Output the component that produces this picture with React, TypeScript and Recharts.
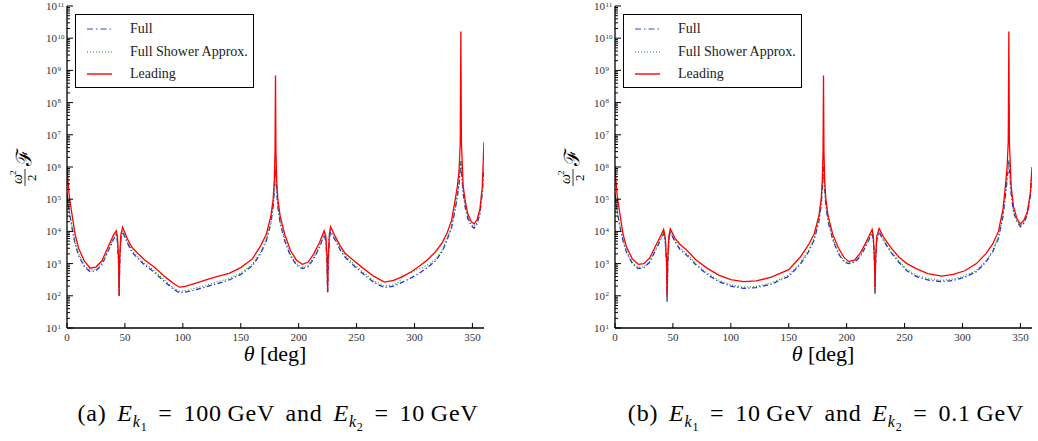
import React from 'react';
import { LineChart, Line, XAxis, YAxis } from 'recharts';

// panel (a): E_k1 = 100 GeV, E_k2 = 10 GeV
const thetaA = [
  0, 1, 2, 4, 7, 10, 15, 20, 25, 30,
  35, 40, 42.5, 43.5, 44.5, 45, 45.5, 46.5, 48, 52,
  56, 60, 67, 75, 85, 92, 97, 102, 110, 120,
  130, 140, 150, 160, 167, 172, 176, 178, 179, 179.6,
  180, 180.4, 181, 182, 184, 188, 193, 198, 203, 208,
  213, 218, 222, 223.5, 224.5, 225, 225.5, 226.5, 227.5, 232,
  236, 240, 247, 255, 265, 274, 282, 287, 290, 297,
  304, 311, 318, 324, 328, 332, 335, 337, 338.5, 339.5,
  340, 340.5, 342, 344, 346, 349, 351.5, 354, 356.5, 358.5,
  360,
];
const fullA = [
  1.5e5, 8e4, 4e4, 1.5e4, 4e3, 1.8e3, 8e2, 5.6e2, 6e2, 9e2,
  2.2e3, 5.5e3, 7.8e3, 5e3, 1e3, 1e2, 1e3, 6e3, 9.8e3, 4.5e3,
  2.3e3, 1.6e3, 9e2, 5.5e2, 2.6e2, 1.6e2, 1.25e2, 1.3e2, 1.5e2, 1.9e2,
  2.4e2, 3.1e2, 4.6e2, 8.5e2, 2e3, 5e3, 1.8e4, 6e4, 2e5, 5e5,
  9e5, 5e5, 2e5, 6e4, 1.8e4, 5e3, 1.7e3, 9e2, 7e2, 8e2,
  1.4e3, 3.2e3, 7.8e3, 5e3, 1e3, 1.3e2, 1e3, 6e3, 9.8e3, 5e3,
  2.6e3, 1.6e3, 9e2, 5e2, 2.6e2, 1.8e2, 2e2, 2.4e2, 2.7e2, 3.6e2,
  5e2, 7.5e2, 1.2e3, 2.4e3, 5.3e3, 1.3e4, 4.7e4, 1.2e5, 3e5, 8e5,
  1.5e6, 8e5, 1.5e5, 5e4, 2.5e4, 1.5e4, 1.25e4, 1.7e4, 3.5e4, 1.5e5,
  1e6,
];
const showerA = [
  1.6e5, 9e4, 4.5e4, 1.7e4, 4.5e3, 2e3, 8.8e2, 6.2e2, 6.6e2, 1e3,
  2.4e3, 6e3, 8.5e3, 5.5e3, 1.1e3, 1e2, 1.1e3, 6.5e3, 1.05e4, 5e3,
  2.6e3, 1.8e3, 1e3, 6.2e2, 2.9e2, 1.75e2, 1.38e2, 1.45e2, 1.7e2, 2.1e2,
  2.7e2, 3.5e2, 5.1e2, 9.5e2, 2.2e3, 5.5e3, 2e4, 6.5e4, 2.2e5, 6e5,
  1e6, 6e5, 2.2e5, 6.5e4, 2e4, 5.5e3, 1.9e3, 1e3, 7.8e2, 8.8e2,
  1.55e3, 3.5e3, 8.5e3, 5.5e3, 1.1e3, 1.3e2, 1.1e3, 6.5e3, 1.05e4, 5.5e3,
  2.9e3, 1.8e3, 1e3, 5.6e2, 2.9e2, 2e2, 2.2e2, 2.7e2, 4.3e2, 5.3e2,
  6.8e2, 9e2, 1.35e3, 2.7e3, 5.9e3, 1.45e4, 5.2e4, 1.3e5, 3.3e5, 9e5,
  1.6e6, 9e5, 1.7e5, 5.6e4, 2.8e4, 1.7e4, 1.4e4, 1.9e4, 3.9e4, 1.7e5,
  1.1e6,
];
const leadingA = [
  1e6, 3e5, 1.2e5, 4e4, 8e3, 3e3, 1.2e3, 7.2e2, 7.8e2, 1.2e3,
  3e3, 7.5e3, 1.05e4, 7e3, 1.5e3, 1e2, 1.5e3, 8e3, 1.35e4, 6e3,
  3.2e3, 2.3e3, 1.3e3, 8e2, 3.8e2, 2.4e2, 1.85e2, 1.95e2, 2.4e2, 3.1e2,
  4e2, 5e2, 7.5e2, 1.4e3, 3.5e3, 8e3, 3e4, 1e5, 4e5, 3e6,
  7e8, 3e6, 4e5, 1e5, 3e4, 8e3, 2.5e3, 1.3e3, 9.5e2, 1.1e3,
  2e3, 4.5e3, 1.05e4, 7e3, 1.5e3, 1.3e2, 1.5e3, 8e3, 1.4e4, 6.5e3,
  3.5e3, 2.1e3, 1.3e3, 7.5e2, 4e2, 2.65e2, 3e2, 3.6e2, 4e2, 5.5e2,
  8.3e2, 1.3e3, 2.3e3, 4.5e3, 8.7e3, 2.2e4, 9e4, 2.5e5, 8e5, 6e6,
  1.6e10, 6e6, 2.5e5, 8e4, 3.5e4, 2e4, 1.7e4, 2.3e4, 5e4, 2.4e5,
  6e6,
];

// panel (b): E_k1 = 10 GeV, E_k2 = 0.1 GeV
const thetaB = [
  0, 1, 2, 4, 7, 10, 15, 20, 25, 30,
  35, 40, 42, 43.5, 44.5, 45, 45.5, 46.5, 47.7, 52,
  56, 62, 70, 80, 90, 100, 111, 122, 135, 150,
  160, 167, 172, 176, 178, 179, 179.6, 180, 180.4, 181,
  182, 184, 188, 193, 198, 202, 207, 212, 217, 222,
  223, 224, 224.5, 225, 226, 228, 232, 238, 245, 252,
  260, 270, 282, 292, 302, 312, 320, 326, 331, 335,
  337, 338.5, 339.5, 340, 340.5, 342, 344, 347, 350, 353,
  356, 358.5, 360,
];
const fullB = [
  1.5e5, 8e4, 4e4, 1.5e4, 5e3, 2.2e3, 1e3, 7e2, 7.5e2, 1.1e3,
  2.6e3, 6e3, 8.7e3, 4.5e3, 9e2, 6.5e1, 9e2, 5.5e3, 9.5e3, 4.6e3,
  2.8e3, 1.8e3, 9e2, 4.5e2, 2.7e2, 2e2, 1.7e2, 1.8e2, 2.3e2, 4e2,
  9.5e2, 2.3e3, 5.5e3, 2e4, 6.5e4, 2.2e5, 6e5, 1e6, 6e5, 2.2e5,
  6.5e4, 2e4, 5.5e3, 2e3, 1.1e3, 1e3, 1.1e3, 1.7e3, 3.7e3, 9e3,
  5.5e3, 1.1e3, 1.15e2, 1.1e3, 5.5e3, 9.5e3, 5e3, 2.3e3, 1.1e3, 6e2,
  4e2, 3.1e2, 2.75e2, 3e2, 3.8e2, 5.6e2, 1.1e3, 2.3e3, 6e3, 3e4,
  1.2e5, 4e5, 9e5, 1.5e6, 9e5, 1.5e5, 4e4, 2e4, 1.4e4, 1.8e4,
  3.3e4, 1.2e5, 6e5,
];
const showerB = [
  1.6e5, 9e4, 4.5e4, 1.7e4, 5.5e3, 2.4e3, 1.1e3, 7.6e2, 8.2e2, 1.2e3,
  2.8e3, 6.5e3, 9.3e3, 5e3, 1e3, 7e1, 1e3, 6e3, 1e4, 5e3,
  3.1e3, 2e3, 1e3, 5e2, 3e2, 2.2e2, 1.85e2, 1.95e2, 2.5e2, 4.4e2,
  1.05e3, 2.5e3, 6e3, 2.2e4, 7e4, 2.4e5, 6.5e5, 1.1e6, 6.5e5, 2.4e5,
  7e4, 2.2e4, 6e3, 2.2e3, 1.2e3, 1.08e3, 1.2e3, 1.85e3, 4e3, 9.7e3,
  6e3, 1.2e3, 1.2e2, 1.2e3, 6e3, 1e4, 5.4e3, 2.5e3, 1.2e3, 6.6e2,
  4.4e2, 3.4e2, 3e2, 3.3e2, 4.2e2, 6.1e2, 1.2e3, 2.5e3, 6.5e3, 3.3e4,
  1.3e5, 4.4e5, 1e6, 1.6e6, 1e6, 1.6e5, 4.4e4, 2.2e4, 1.5e4, 2e4,
  3.6e4, 1.3e5, 6.5e5,
];
const leadingB = [
  1e6, 3e5, 1.2e5, 4e4, 8e3, 3.2e3, 1.4e3, 9.5e2, 1e3, 1.5e3,
  3.5e3, 8e3, 1.15e4, 6e3, 1.2e3, 9e1, 1.2e3, 7e3, 1.2e4, 6e3,
  4e3, 2.6e3, 1.3e3, 7e2, 4.3e2, 3.2e2, 2.75e2, 2.9e2, 3.8e2, 6.5e2,
  1.6e3, 3.8e3, 8.5e3, 3e4, 1e5, 4e5, 3e6, 7e8, 3e6, 4e5,
  1e5, 3e4, 8e3, 3e3, 1.5e3, 1.15e3, 1.3e3, 2.2e3, 4.8e3, 1.15e4,
  7e3, 1.5e3, 1.5e2, 1.5e3, 7e3, 1.23e4, 6.5e3, 3.2e3, 1.6e3, 1e3,
  7e2, 4.9e2, 4.1e2, 4.6e2, 6e2, 1e3, 2e3, 4e3, 1e4, 5e4,
  2.5e5, 1e6, 6e6, 1.6e10, 6e6, 2.5e5, 6e4, 2.5e4, 1.7e4, 2.2e4,
  4e4, 1.5e5, 1e6,
];

const xTicks = [0, 50, 100, 150, 200, 250, 300, 350];
const yDecades = [1, 2, 3, 4, 5, 6, 7, 8, 9, 10, 11];
const yTicks: number[] = [];
yDecades.forEach((d) => {
  if (d === 11) { yTicks.push(1e11); return; }
  for (let m = 1; m <= 9; m++) yTicks.push(m * Math.pow(10, d));
});

const SERIF = '"Liberation Serif", "Times New Roman", Times, Tinos, "Noto Serif", "DejaVu Serif", serif';
const BLUE = '#1f2fe8';
const GREEN = '#2e9a2e';
const RED = '#ff0000';

const isMajor = (v: number) => Math.abs(Math.log10(v) - Math.round(Math.log10(v))) < 1e-6;

const BottomTick = (props: any) => {
  const { x, y, payload } = props;
  return (
    <g>
      <line x1={x} x2={x} y1={y} y2={y - 5} stroke="#000" strokeWidth={1} />
      <text x={x} y={y + 13} textAnchor="middle" fontSize={11} fontFamily={SERIF} fill="#333">{payload.value}</text>
    </g>
  );
};

const TopTick = (props: any) => {
  const { x, y } = props;
  return <line x1={x} x2={x} y1={y} y2={y + 5} stroke="#000" strokeWidth={1} />;
};

const LeftTick = (props: any) => {
  const { x, y, payload } = props;
  const v = payload.value;
  const major = isMajor(v);
  return (
    <g>
      <line x1={x} x2={x + (major ? 6 : 3)} y1={y} y2={y} stroke="#000" strokeWidth={1} />
      {major && (
        <text x={x - 10} y={y + 4} textAnchor="end" fontSize={11} fontFamily={SERIF} fill="#333">
          10
        </text>
      )}
      {major && (
        <text x={x - 9.5} y={y + 0.5} textAnchor="start" fontSize={7} fontFamily={SERIF} fill="#333">
          {Math.round(Math.log10(v))}
        </text>
      )}
    </g>
  );
};

const RightTick = (props: any) => {
  const { x, y, payload } = props;
  const major = isMajor(payload.value);
  return <line x1={x} x2={x - (major ? 6 : 3)} y1={y} y2={y} stroke="#000" strokeWidth={1} />;
};

const legendItems = [
  { name: 'Full', color: BLUE, dash: '6 3 1.5 3', opacity: 0.6 },
  { name: 'Full Shower Approx.', color: GREEN, dash: '1 2', opacity: 0.8 },
  { name: 'Leading', color: RED, dash: '', opacity: 1 },
];

const Panel = ({ left, theta, full, shower, leading, caption }: any) => {
  const data = theta.map((t: number, i: number) => ({ theta: t, full: full[i], shower: shower[i], leading: leading[i] }));
  return (
    <div style={{ position: 'absolute', left, top: 0, width: 490, height: 441 }}>
      <div style={{ position: 'absolute', left: 0, top: 0 }}>
        <LineChart width={490} height={360} data={data} margin={{ top: 6, right: 6, left: 0, bottom: 0 }}>
          <XAxis xAxisId="b" dataKey="theta" type="number" domain={[0, 360]} ticks={xTicks} interval={0}
            allowDataOverflow height={32} tickSize={0} tickMargin={0} tickLine={false}
            axisLine={{ stroke: '#000', strokeWidth: 1.3 }} tick={<BottomTick />} />
          <XAxis xAxisId="t" orientation="top" dataKey="theta" type="number" domain={[0, 360]} ticks={xTicks} interval={0}
            allowDataOverflow height={0} tickSize={0} tickMargin={0} tickLine={false}
            axisLine={{ stroke: '#888', strokeWidth: 1.6 }} tick={<TopTick />} />
          <YAxis yAxisId="l" scale="log" type="number" domain={[10, 1e11]} ticks={yTicks} interval={0}
            allowDataOverflow width={67} tickSize={0} tickMargin={0} tickLine={false}
            axisLine={{ stroke: '#000', strokeWidth: 1.3 }} tick={<LeftTick />} />
          <YAxis yAxisId="r" orientation="right" scale="log" type="number" domain={[10, 1e11]} ticks={yTicks} interval={0}
            allowDataOverflow width={0} tickSize={0} tickMargin={0} tickLine={false}
            axisLine={{ stroke: '#888', strokeWidth: 1.6 }} tick={<RightTick />} />
          <Line xAxisId="b" yAxisId="l" type="linear" dataKey="full" stroke={BLUE} strokeWidth={1.3}
            strokeDasharray="5 2.5 1.2 2.5" dot={false} isAnimationActive={false} />
          <Line xAxisId="b" yAxisId="l" type="linear" dataKey="shower" stroke={GREEN} strokeWidth={1.2}
            strokeDasharray="1 2" dot={false} isAnimationActive={false} />
          <Line xAxisId="b" yAxisId="l" type="linear" dataKey="leading" stroke={RED} strokeWidth={1.3}
            dot={false} isAnimationActive={false} />
        </LineChart>
      </div>

      {/* legend */}
      <div style={{ position: 'absolute', left: 75, top: 14, width: 177, height: 72, border: '1.3px solid #000',
        background: '#fff', fontFamily: SERIF, fontSize: 14, color: '#222' }}>
        {legendItems.map((it, i) => (
          <div key={it.name} style={{ position: 'absolute', left: 0, top: 4 + i * 22.5, height: 20, display: 'flex', alignItems: 'center' }}>
            <svg width={54} height={20}>
              <line x1={11} x2={36} y1={10} y2={10} stroke={it.color} strokeWidth={1.4}
                strokeDasharray={it.dash || undefined} opacity={it.opacity} />
            </svg>
            <span style={{ whiteSpace: 'nowrap' }}>{it.name}</span>
          </div>
        ))}
      </div>

      {/* y axis label */}
      <svg width={50} height={360} style={{ position: 'absolute', left: 0, top: 0 }}>
        <g transform="translate(25,186) rotate(-90)" fontFamily={SERIF}>
          <text x={2} y={-3} fontSize={14} fontStyle="italic">ω</text>
          <text x={11} y={-9} fontSize={9}>2</text>
          <line x1={0} x2={17} y1={0} y2={0} stroke="#000" strokeWidth={0.8} />
          <text x={5} y={11} fontSize={13}>2</text>
          <text x={20} y={6} fontSize={21} fontStyle="italic">ℱ</text>
        </g>
      </svg>

      {/* x axis label */}
      <div style={{ position: 'absolute', left: 0, top: 343, width: 550, textAlign: 'center', fontFamily: SERIF,
        fontSize: 22, lineHeight: '22px', whiteSpace: 'nowrap' }}>
        <i>θ</i>&nbsp;[deg]
      </div>

      {/* caption */}
      <div style={{ position: 'absolute', left: 0, top: 400, width: 556, textAlign: 'center', fontFamily: SERIF,
        fontSize: 24, lineHeight: '26px', letterSpacing: 0.8, wordSpacing: 4, whiteSpace: 'nowrap' }}>
        {caption}
      </div>
    </div>
  );
};

const Ek = ({ n }: { n: string }) => (
  <span>
    <i>E</i>
    <sub style={{ fontSize: 16 }}><i>k</i><sub style={{ fontSize: 12 }}>{n}</sub></sub>
  </span>
);

const captionA = (
  <span>(a) <Ek n="1" /> = 100&thinsp;GeV and <Ek n="2" /> = 10&thinsp;GeV</span>
);
const captionB = (
  <span>(b) <Ek n="1" /> = 10&thinsp;GeV and <Ek n="2" /> = 0.1&thinsp;GeV</span>
);

export default function App() {
  return (
    <div style={{ position: 'absolute', left: 0, top: 0, width: 1038, height: 441, background: '#fff' }}>
      <Panel left={0} theta={thetaA} full={fullA} shower={showerA} leading={leadingA} caption={captionA} />
      <Panel left={548} theta={thetaB} full={fullB} shower={showerB} leading={leadingB} caption={captionB} />
    </div>
  );
}
